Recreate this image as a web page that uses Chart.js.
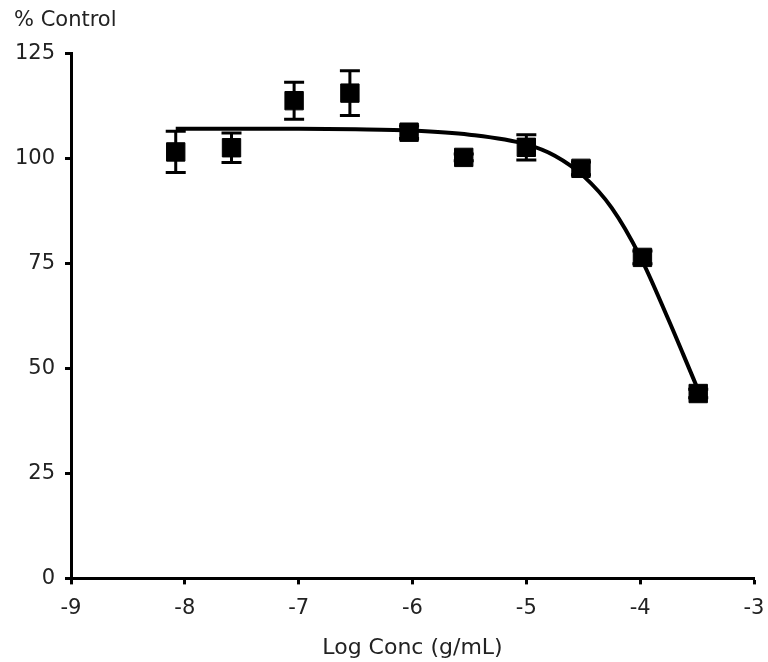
<!DOCTYPE html>
<html>
<head>
<meta charset="utf-8">
<script src="https://cdn.jsdelivr.net/npm/chart.js@4.4.1/dist/chart.umd.min.js"></script>
<style>
  html, body { margin: 0; padding: 0; background: #fff; }
  #wrap { width: 768px; height: 662px; position: relative; }
</style>
</head>
<body>
<div id="wrap"><canvas id="myChart"></canvas></div>
<script>
// measured points (mean +/- error)
const logConc = [-8.08, -7.59, -7.04, -6.55, -6.03, -5.55, -5.0, -4.52, -3.98, -3.49];
const pctControl = [101.5, 102.5, 113.7, 115.5, 106.2, 100.2, 102.6, 97.6, 76.4, 44.0];
const errSize = [4.9, 3.5, 4.4, 5.3, 1.5, 0.8, 3.0, 1.5, 1.5, 1.0];

// fitted curve
const fitX = [-8.08, -7.0, -6.5, -6.0, -5.5, -5.0, -4.75, -4.5, -4.25, -4.0, -3.75, -3.62, -3.49];
const fitY = [107.0, 107.0, 106.9, 106.6, 105.6, 103.3, 100.6, 95.8, 88.2, 76.6, 61.5, 53.2, 44.8];

const xTicks = [-9, -8, -7, -6, -5, -4, -3];
const yTicks = [0, 25, 50, 75, 100, 125];

const ctx = document.getElementById('myChart');

const errorBars = {
    id: 'errorBars',
    afterDatasetsDraw(chart) {
        const xs = chart.scales.x;
        const ys = chart.scales.y;
        const c = chart.ctx;
        c.save();
        c.strokeStyle = '#000';
        c.lineWidth = 3;
        for (let i = 0; i < logConc.length; i++) {
            const px = xs.getPixelForValue(logConc[i]);
            const top = ys.getPixelForValue(pctControl[i] + errSize[i]);
            const bot = ys.getPixelForValue(pctControl[i] - errSize[i]);
            c.beginPath();
            c.moveTo(px, top); c.lineTo(px, bot);
            c.moveTo(px - 10, top); c.lineTo(px + 10, top);
            c.moveTo(px - 10, bot); c.lineTo(px + 10, bot);
            c.stroke();
        }
        c.restore();
    }
};

const tickFont = { family: 'DejaVu Sans', size: 21 };
const titleFont = { family: 'DejaVu Sans', size: 22 };

const myChart = new Chart(ctx, {
    type: 'scatter',
    data: {
        datasets: [{
            type: 'line',
            label: 'fit',
            data: fitX.map((x, i) => ({ x: x, y: fitY[i] })),
            borderColor: '#000',
            borderWidth: 4,
            pointRadius: 0,
            cubicInterpolationMode: 'monotone',
            fill: false
        }, {
            label: 'data',
            data: logConc.map((x, i) => ({ x: x, y: pctControl[i] })),
            pointStyle: 'rect',
            pointRadius: 13,
            backgroundColor: '#000',
            borderColor: '#000',
            borderWidth: 1
        }]
    },
    options: {
        responsive: true,
        maintainAspectRatio: false,
        animation: false,
        layout: { padding: { left: 14, right: 0, top: 0, bottom: 0 } },
        plugins: {
            legend: { display: false },
            tooltip: { enabled: false },
            title: {
                display: true,
                text: '% Control',
                align: 'start',
                color: '#222',
                font: { family: 'DejaVu Sans', size: 21, weight: 'normal' },
                padding: { top: 8, bottom: 20 }
            }
        },
        scales: {
            x: {
                type: 'linear',
                min: -9,
                max: -3,
                afterBuildTicks: s => { s.ticks = xTicks.map(v => ({ value: v })); },
                afterFit: s => { s.paddingRight = 2; s.paddingLeft = 0; },
                ticks: { color: '#222', font: tickFont, padding: 12 },
                grid: { display: true, drawOnChartArea: false, drawTicks: true, tickLength: 6, tickWidth: 3, color: '#000' },
                border: { display: true, color: '#000', width: 3 },
                title: { display: true, text: 'Log Conc (g/mL)', color: '#222', font: titleFont, padding: { top: 1, bottom: 1 } }
            },
            y: {
                type: 'linear',
                min: 0,
                max: 125,
                afterBuildTicks: s => { s.ticks = yTicks.map(v => ({ value: v })); },
                afterFit: s => { s.width = 57; },
                ticks: { color: '#222', font: tickFont, padding: 10 },
                grid: { display: true, drawOnChartArea: false, drawTicks: true, tickLength: 6, tickWidth: 3, color: '#000' },
                border: { display: true, color: '#000', width: 3 }
            }
        }
    },
    plugins: [errorBars]
});
</script>
</body>
</html>
